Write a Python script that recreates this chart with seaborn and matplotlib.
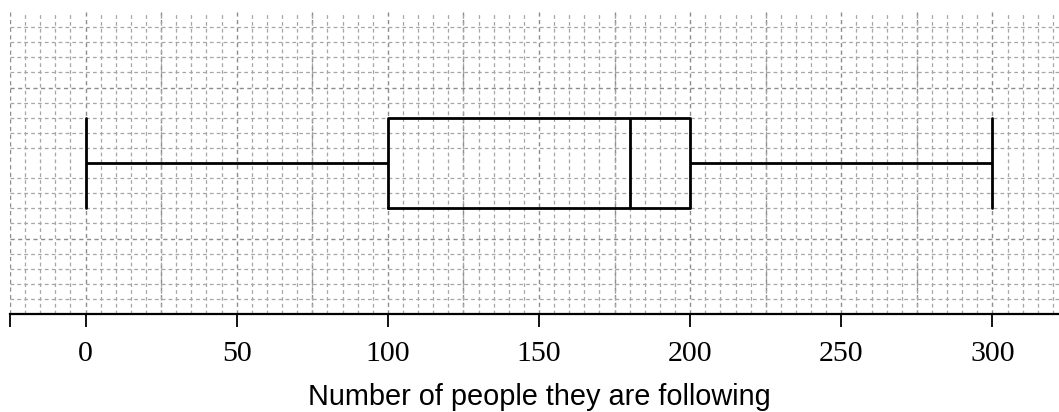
import matplotlib
matplotlib.use("Agg")
import matplotlib.pyplot as plt
import seaborn as sns
import numpy as np

# five-number summary of following counts: min, Q1, median, Q3, max
following = [0, 100, 180, 200, 300]
tick_values = [-25, 0, 50, 100, 150, 200, 250, 300]
tick_labels = ["", "0", "50", "100", "150", "200", "250", "300"]
x_label = "Number of people they are following"

sns.set_style("white")

fig = plt.figure(figsize=(10.59, 4.12), dpi=100)
ax = fig.add_axes([10 / 1059, 1 - 314 / 412, 1 - 10 / 1059, (314 - 12) / 412])

sns.boxplot(x=following, ax=ax, whis=1.5, width=0.6, fill=False,
            color="black", linewidth=2, showfliers=False)

# stretch the whisker caps to the full box height
for line in ax.lines:
    xd = np.asarray(line.get_xdata(), dtype=float)
    if len(xd) == 2 and xd[0] == xd[1] and xd[0] in (min(following), max(following)):
        line.set_ydata([-0.3, 0.3])

# graph-paper grid
ax.set_xticks(np.arange(-25, 326, 5), minor=True)
ax.set_yticks(np.arange(-1, 1.01, 0.1), minor=True)
ax.set_yticks([-1, -0.5, 0, 0.5, 1])
ax.grid(which="minor", color="#a6a6a6", linestyle=(0, (3, 2.5)), linewidth=0.9)
ax.set_axisbelow(True)
ax.set_xticks(tick_values)
ax.set_xticklabels(tick_labels, fontfamily="Liberation Serif", fontsize=21.5,
                   color="black")
ax.tick_params(axis="x", which="major", bottom=True, length=9.5, width=1.3,
               direction="out", pad=10, color="black")
ax.tick_params(axis="x", which="minor", bottom=False, length=0)
ax.tick_params(axis="y", which="both", left=False, length=0, labelleft=False)
for xv in np.arange(-25, 326, 25):
    ax.axvline(xv, color="#8c8c8c", linestyle=(0, (3, 2.5)), linewidth=1.0, zorder=0.5)
for yv in [-0.5, 0.5]:
    ax.axhline(yv, color="#8c8c8c", linestyle=(0, (3, 2.5)), linewidth=1.0, zorder=0.5)

ax.set_xlim(-25, 322)
ax.set_ylim(-1, 1)

for side in ["top", "left", "right"]:
    ax.spines[side].set_visible(False)
ax.spines["bottom"].set_color("black")
ax.spines["bottom"].set_linewidth(1.6)

ax.set_xlabel(x_label, fontfamily="Liberation Sans", fontsize=20.8, color="black")
ax.xaxis.set_label_coords(0.505, -0.228)
ax.set_ylabel("")

fig.savefig("out.png", dpi=100)
